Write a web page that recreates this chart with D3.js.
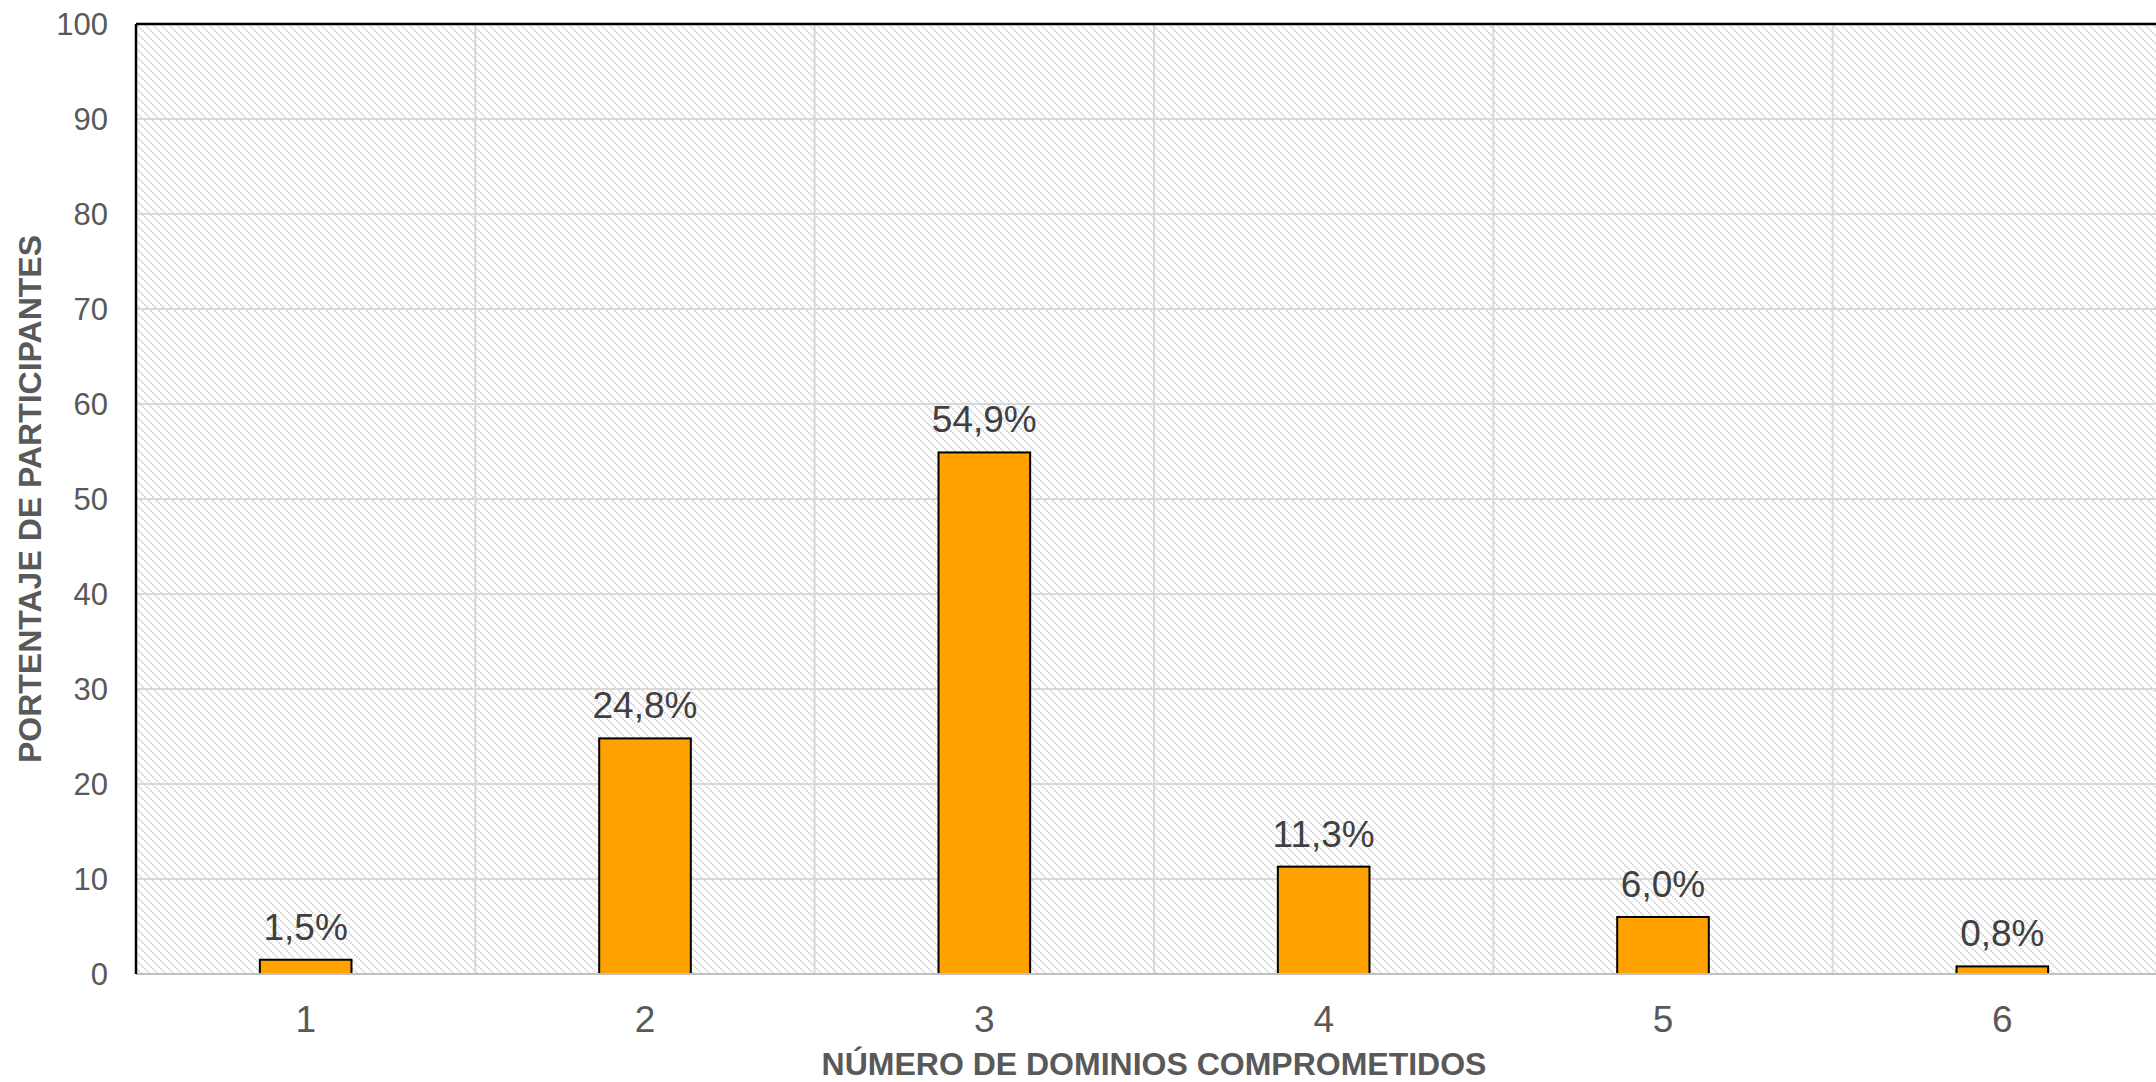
<!DOCTYPE html>
<html>
<head>
<meta charset="utf-8">
<script src="https://cdn.jsdelivr.net/npm/d3@7"></script>
<style>
html,body{margin:0;padding:0;background:#fff;overflow:hidden;}
svg{display:block;}
text{font-family:"Liberation Sans",Arial,sans-serif;}
</style>
</head>
<body>
<script>
const categories = ["1","2","3","4","5","6"];
const values = [1.5, 24.8, 54.9, 11.3, 6.0, 0.8];
const valueLabels = ["1,5%","24,8%","54,9%","11,3%","6,0%","0,8%"];
const yTicks = [0,10,20,30,40,50,60,70,80,90,100];
const xTitle = "NÚMERO DE DOMINIOS COMPROMETIDOS";
const yTitle = "PORTENTAJE DE PARTICIPANTES";

(function(){
const W = 2156, H = 1082;
const pL = 136, pR = 2172, pT = 24, pB = 974;

const svg = d3.select("body").append("svg").attr("width", W).attr("height", H);

const defs = svg.append("defs");
const pat = defs.append("pattern").attr("id","hatch").attr("patternUnits","userSpaceOnUse")
  .attr("width",8).attr("height",8).attr("x",pL).attr("y",pT);
pat.append("rect").attr("width",8).attr("height",8).attr("fill","#ffffff");
[0,2,4,6].forEach(i => pat.append("rect").attr("x",i).attr("y",i).attr("width",2).attr("height",2).attr("fill","#dcdcdc"));

const x = d3.scaleBand().domain(categories).range([pL, pR]).paddingInner(0).paddingOuter(0);
const y = d3.scaleLinear().domain([0,100]).range([pB, pT]);

svg.append("rect").attr("x",pL).attr("y",pT).attr("width",pR-pL).attr("height",pB-pT).attr("fill","url(#hatch)");

svg.append("g").selectAll("line").data(yTicks.slice(1)).join("line")
  .attr("x1",pL).attr("x2",pR).attr("y1",d=>y(d)).attr("y2",d=>y(d))
  .attr("stroke","#d9d9d9").attr("stroke-width",2);
svg.append("g").selectAll("line").data(categories.slice(1)).join("line")
  .attr("x1",d=>x(d)).attr("x2",d=>x(d)).attr("y1",pT).attr("y2",pB)
  .attr("stroke","#d9d9d9").attr("stroke-width",2);

const bw = x.bandwidth()*0.27;
svg.append("g").selectAll("rect").data(values).join("rect")
  .attr("x",(d,i)=>x(categories[i]) + x.bandwidth()/2 - bw/2)
  .attr("y",d=>y(d)).attr("width",bw).attr("height",d=>pB - y(d))
  .attr("fill","#FFA200").attr("stroke","#000").attr("stroke-width",2);

svg.append("line").attr("x1",pL).attr("x2",pR).attr("y1",pB).attr("y2",pB)
  .attr("stroke","#bfbfbf").attr("stroke-width",2);
svg.append("line").attr("x1",pL).attr("x2",pR).attr("y1",pT).attr("y2",pT)
  .attr("stroke","#000").attr("stroke-width",2.5);
svg.append("line").attr("x1",pL).attr("x2",pL).attr("y1",pT).attr("y2",pB)
  .attr("stroke","#000").attr("stroke-width",2.5);

svg.append("g").selectAll("text").data(values).join("text")
  .attr("x",(d,i)=>x(categories[i]) + x.bandwidth()/2)
  .attr("y",d=>y(d) - 20)
  .attr("text-anchor","middle").attr("font-size",37).attr("fill","#404040")
  .text((d,i)=>valueLabels[i]);

svg.append("g").selectAll("text").data(yTicks).join("text")
  .attr("x",108).attr("y",d=>y(d)).attr("dy","0.35em")
  .attr("text-anchor","end").attr("font-size",31).attr("fill","#595959")
  .text(d=>d);

svg.append("g").selectAll("text").data(categories).join("text")
  .attr("x",d=>x(d)+x.bandwidth()/2).attr("y",1032)
  .attr("text-anchor","middle").attr("font-size",37).attr("fill","#595959")
  .text(d=>d);

svg.append("text").attr("x",(pL+pR)/2).attr("y",1075)
  .attr("text-anchor","middle").attr("font-size",32).attr("font-weight","bold").attr("fill","#595959")
  .text(xTitle);
svg.append("text").attr("transform",`translate(41,${(pT+pB)/2}) rotate(-90)`)
  .attr("text-anchor","middle").attr("font-size",32).attr("font-weight","bold").attr("fill","#595959")
  .text(yTitle);
})();
</script>
</body>
</html>
